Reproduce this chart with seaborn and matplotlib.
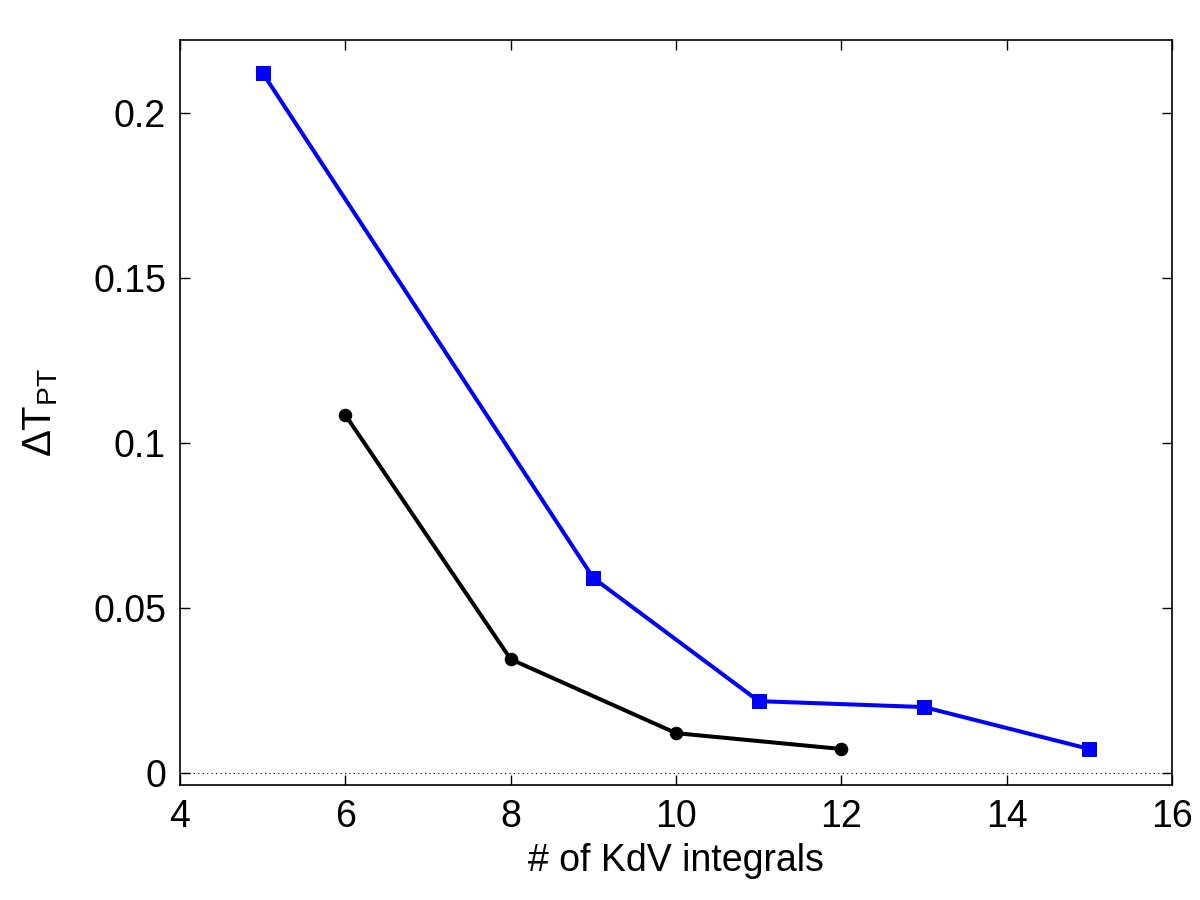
import pandas as pd
import numpy as np
import matplotlib
matplotlib.use("Agg")
import matplotlib.pyplot as plt
import seaborn as sns

# data
blue_x = [5, 9, 11, 13, 15]
blue_y = [0.2121, 0.0591, 0.0218, 0.0200, 0.0073]
black_x = [6, 8, 10, 12]
black_y = [0.1085, 0.0345, 0.0121, 0.0073]

x_ticks = [4, 6, 8, 10, 12, 14, 16]
y_ticks = [0, 0.05, 0.1, 0.15, 0.2]
y_tick_labels = ["0", "0.05", "0.1", "0.15", "0.2"]

sns.set_style("ticks")
plt.rcParams['font.family'] = ['Liberation Sans', 'DejaVu Sans']
plt.rcParams['mathtext.fontset'] = 'custom'
plt.rcParams['mathtext.rm'] = 'Liberation Sans'
plt.rcParams['mathtext.it'] = 'Liberation Sans'
plt.rcParams['mathtext.default'] = 'regular'
plt.rcParams['text.color'] = 'black'
plt.rcParams['axes.labelcolor'] = 'black'

blue_df = pd.DataFrame({"n": blue_x, "dT": blue_y})
black_df = pd.DataFrame({"n": black_x, "dT": black_y})

fig = plt.figure(figsize=(12, 9), dpi=100)
ax = fig.add_axes([0.15, 0.1278, 0.8267, 0.8278])

sns.lineplot(data=blue_df, x="n", y="dT", ax=ax, color="#0000ff", linewidth=2.9,
             marker="s", markersize=9.5, markeredgecolor="#0000ff")
sns.lineplot(data=black_df, x="n", y="dT", ax=ax, color="black", linewidth=2.9,
             marker="o", markersize=9, markeredgecolor="black")

# dotted zero line
ax.axhline(0, color="black", linestyle=(0, (1, 3)), linewidth=0.8, zorder=0)

ax.set_xlim(4, 16)
ax.set_ylim(-0.0036, 0.2221)
ax.set_xticks(x_ticks)
ax.set_yticks(y_ticks)
ax.set_yticklabels(y_tick_labels)
ax.tick_params(direction="in", length=7, width=1, top=True, right=True,
               labelsize=27, pad=10, colors="black")
for s in ax.spines.values():
    s.set_linewidth(1.2)
    s.set_color("black")

ax.set_xlabel("# of KdV integrals", fontsize=27, labelpad=6)
ax.set_ylabel(r"ΔT$_{PT}$", fontsize=29, labelpad=24)

fig.savefig("out.png", dpi=100)
